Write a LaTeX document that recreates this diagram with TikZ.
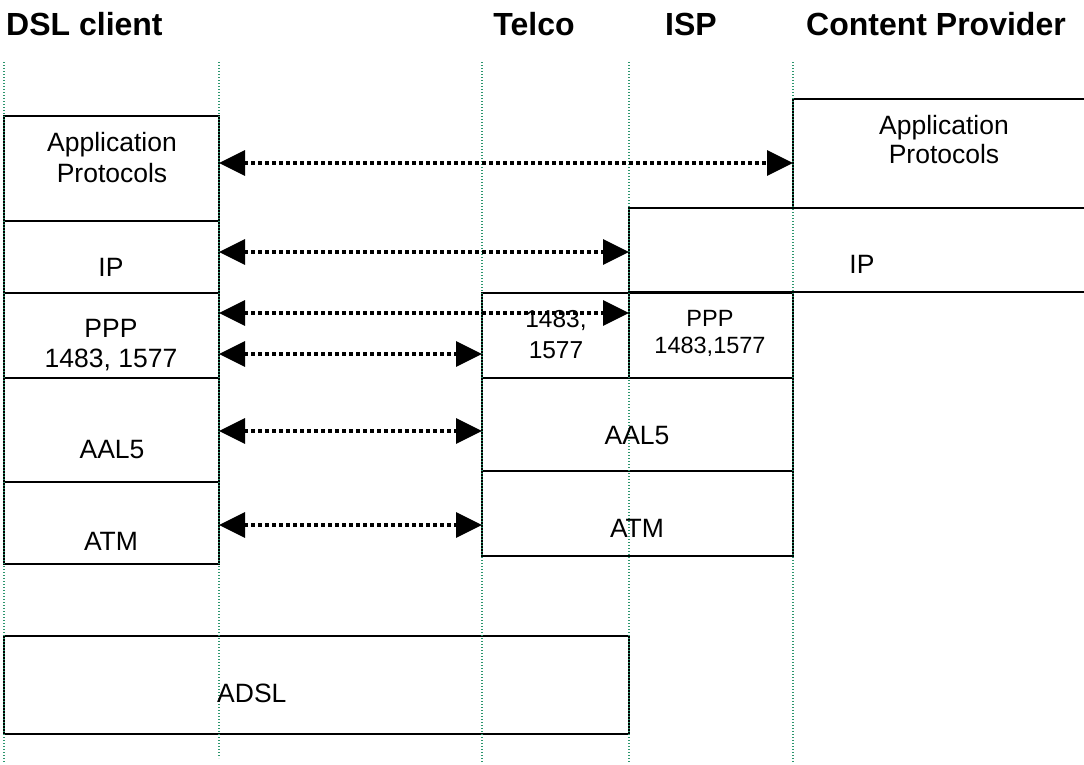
\documentclass[tikz,border=0pt]{standalone}
\usepackage{fontspec}
\setmainfont{Liberation Sans}
\usetikzlibrary{arrows.meta}
\definecolor{guidecol}{RGB}{45,150,110}
\begin{document}
\begin{tikzpicture}[x=1pt,y=-1pt,
  box/.style={draw=black, line width=2pt, inner sep=0pt, outer sep=0pt, anchor=north west},
  guide/.style={draw=guidecol, line width=1.1pt, dash pattern=on 1.1pt off 1.9pt},
  arr/.style={line width=3.4pt, dash pattern=on 4pt off 3pt,
    {Triangle[length=26pt,width=25pt]}-{Triangle[length=26pt,width=25pt]}},
  hdr/.style={font=\fontsize{32}{38}\selectfont\bfseries, inner sep=0pt, anchor=base},
  lbl/.style={font=\fontsize{26.5}{31}\selectfont, inner sep=0pt, anchor=base},
  lblm/.style={font=\fontsize{24.5}{29}\selectfont, inner sep=0pt, anchor=base},
  lbls/.style={font=\fontsize{23.5}{28}\selectfont, inner sep=0pt, anchor=base}]
\useasboundingbox (0,0) rectangle (1084,764);

% boxes
\node[box, minimum width=215pt, minimum height=105pt] (lapp) at (4,116) {};
\node[box, minimum width=215pt, minimum height=72pt]  (lip)  at (4,221) {};
\node[box, minimum width=215pt, minimum height=85pt]  (lppp) at (4,293) {};
\node[box, minimum width=215pt, minimum height=104pt] (laal) at (4,378) {};
\node[box, minimum width=215pt, minimum height=82pt]  (latm) at (4,482) {};
\node[box, minimum width=625pt, minimum height=98pt]  (adsl) at (4,636) {};
\node[box, minimum width=147pt, minimum height=85pt]  (tel)  at (482,293) {};
\node[box, minimum width=164pt, minimum height=85pt]  (isp)  at (629,293) {};
\node[box, minimum width=311pt, minimum height=93pt]  (raal) at (482,378) {};
\node[box, minimum width=311pt, minimum height=85pt]  (ratm) at (482,471) {};
\node[box, minimum width=300pt, minimum height=109pt] (rapp) at (793,99) {};
\node[box, minimum width=465pt, minimum height=84pt]  (rip)  at (629,208) {};

% guide lines
\coordinate (g1t) at (4,62);   \coordinate (g1b) at (4,762);
\coordinate (g2t) at (219,62); \coordinate (g2b) at (219,758);
\coordinate (g3t) at (482,62); \coordinate (g3b) at (482,762);
\coordinate (g4t) at (629,62); \coordinate (g4b) at (629,762);
\coordinate (g5t) at (793,62); \coordinate (g5b) at (793,762);
\draw[guide] (g1t) -- (g1b);
\draw[guide] (g2t) -- (g2b);
\draw[guide] (g3t) -- (g3b);
\draw[guide] (g4t) -- (g4b);
\draw[guide] (g5t) -- (g5b);

% headers
\node[hdr, anchor=base west] (hdsl) at (6,35) {DSL client};
\node[hdr] (htel) at (534,35) {Telco};
\node[hdr] (hisp) at (691,35) {ISP};
\node[hdr] (hcp)  at (936,35) {Content Provider};

% labels
\node[lbl] (tla1) at (112,151) {Application};
\node[lbl] (tla2) at (112,182) {Protocols};
\node[lbl] (tra1) at (944,134) {Application};
\node[lbl] (tra2) at (944,163) {Protocols};
\node[lbl] (tlip) at (111,276) {IP};
\node[lbl] (trip) at (862,273) {IP};
\node[lbl] (tlp1) at (111,337) {PPP};
\node[lbl] (tlp2) at (111,367) {1483, 1577};
\node[lblm] (tt1) at (556,327) {1483,};
\node[lblm] (tt2) at (556,358) {1577};
\node[lbls] (ti1) at (710,326) {PPP};
\node[lbls] (ti2) at (710,353) {1483,1577};
\node[lbl] (tlaal) at (112,458) {AAL5};
\node[lbl] (tlatm) at (111,550) {ATM};
\node[lbl] (traal) at (637,444) {AAL5};
\node[lbl] (tratm) at (637,537) {ATM};
\node[lbl, anchor=base west] (tadsl) at (217,702) {ADSL};

% arrows
\coordinate (y1) at (0,163);
\coordinate (y2) at (0,252);
\coordinate (y3) at (0,313);
\coordinate (y4) at (0,354);
\coordinate (y5) at (0,431);
\coordinate (y6) at (0,525);
\draw[arr] (lapp.east |- y1) -- (rapp.west |- y1);
\draw[arr] (lip.east |- y2) -- (rip.west |- y2);
\draw[arr] (lppp.east |- y3) -- (isp.west |- y3);
\draw[arr] (lppp.east |- y4) -- (tel.west |- y4);
\draw[arr] (laal.east |- y5) -- (raal.west |- y5);
\draw[arr] (latm.east |- y6) -- (ratm.west |- y6);
\end{tikzpicture}
\end{document}
